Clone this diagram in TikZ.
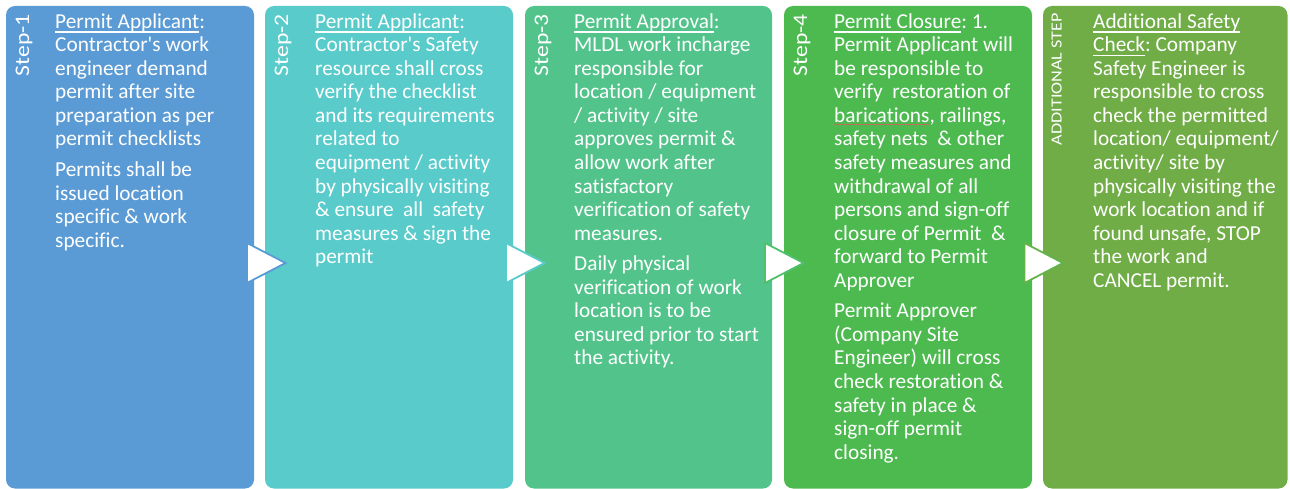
\documentclass[tikz,border=0pt]{standalone}
\usepackage{graphicx}
\usepackage{fontspec}
\setmainfont{Carlito}[Ligatures={TeXOff,NoCommon}]
\definecolor{cA}{HTML}{5B9BD5}
\definecolor{cB}{HTML}{58CBCA}
\definecolor{cC}{HTML}{52C48B}
\definecolor{cD}{HTML}{4DBA50}
\definecolor{cE}{HTML}{70AD47}
\definecolor{aC}{HTML}{4FC06E}
\definecolor{aD}{HTML}{62B44A}
\definecolor{spell}{HTML}{C0705A}
\newcommand\myul[1]{\setbox0\hbox{#1}\rlap{\rule[-4.3pt]{\wd0}{1.2pt}}\box0}
\newcommand\myspell[1]{\setbox0\hbox{#1}\rlap{\color{spell}\rule[-2.4pt]{\wd0}{0.8pt}}\box0}
\newcommand\steptxt[1]{\resizebox{62pt}{\height}{#1}}
\newcommand\addtxt[1]{\resizebox{132pt}{\height}{#1}}
\begin{document}
\frenchspacing
\begin{tikzpicture}[x=1pt,y=-1pt,
  box/.style={draw=none, rounded corners=9pt, inner sep=0pt, outer sep=0pt, anchor=north west, minimum height=482.5pt},
  txt/.style={text=white, anchor=north west, inner sep=0pt, align=left, font=\fontsize{21.3}{23.55}\selectfont},
  lbl/.style={text=white, rotate=90, anchor=base east, inner sep=0pt, font=\fontsize{20.7}{23}\selectfont},
  lblsmall/.style={text=white, rotate=90, anchor=base east, inner sep=0pt, font=\fontsize{15.5}{18}\selectfont},
  arr/.style={fill=white, line width=1.8pt, line join=miter}]
\useasboundingbox (0,0) rectangle (1290,489);
% boxes
\node[box, fill=cA, minimum width=248pt] (b1) at (6,6) {};
\node[box, fill=cB, minimum width=248pt] (b2) at (265,6) {};
\node[box, fill=cC, minimum width=247pt] (b3) at (525,6) {};
\node[box, fill=cD, minimum width=248pt] (b4) at (784,6) {};
\node[box, fill=cE, minimum width=244.5pt] (b5) at (1043,6) {};
% step labels
\node[lbl] (l1) at (29,14) {\steptxt{Step-1}};
\node[lbl] (l2) at (288,14) {\steptxt{Step-2}};
\node[lbl] (l3) at (548,14) {\steptxt{Step-3}};
\node[lbl] (l4) at (807,14) {\steptxt{Step-4}};
\node[lblsmall] (l5) at (1061.5,13) {\addtxt{ADDITIONAL STEP}};
% texts
\node[txt] (t1) at (55,11.55) {\strut\myul{Permit Applicant}:\\
Contractor's work\\
engineer demand\\
permit after site\\
preparation as per\\
permit checklists\\[7pt]
Permits shall be\\
issued location\\
specific \& work\\
specific.};
\node[txt] (t2) at (315,11.55) {\strut\myul{Permit Applicant}:\\
Contractor's Safety\\
resource shall cross\\
verify the checklist\\
and its requirements\\
related to\\
equipment / activity\\
by physically visiting\\
\& ensure\ \ all\ \ safety\\
measures \& sign the\\
permit};
\node[txt] (t3) at (574,11.55) {\strut\myul{Permit Approval}:\\
MLDL work incharge\\
responsible for\\
location / equipment\\
/ activity / site\\
approves permit \&\\
allow work after\\
satisfactory\\
verification of safety\\
measures.\\[7pt]
Daily physical\\
verification of work\\
location is to be\\
ensured prior to start\\
the activity.};
\node[txt] (t4) at (834,11.55) {\strut\myul{Permit Closure}: 1.\\
Permit Applicant will\\
be responsible to\\
verify\ \ restoration of\\
\myspell{barications}, railings,\\
safety nets\ \ \& other\\
safety measures and\\
withdrawal of all\\
persons and sign-off\\
closure of Permit\ \ \&\\
forward to Permit\\
Approver\\[7pt]
Permit Approver\\
(Company Site\\
Engineer) will cross\\
check restoration \&\\
safety in place \&\\
sign-off permit\\
closing.};
\node[txt] (t5) at (1093,11.55) {\strut\myul{Additional Safety}\\
\myul{Check}: Company\\
Safety Engineer is\\
responsible to cross\\
check the permitted\\
location/ equipment/\\
activity/ site by\\
physically visiting the\\
work location and if\\
found unsafe, STOP\\
the work and\\
CANCEL permit.};
% arrows
\draw[arr, draw=cA] (247,243) -- (285.5,263) -- (247,283) -- cycle;
\draw[arr, draw=cB] (506,243) -- (544.5,263) -- (506,283) -- cycle;
\draw[arr, draw=aC] (765,243) -- (803.5,263) -- (765,283) -- cycle;
\draw[arr, draw=aD] (1024.5,243) -- (1063,263) -- (1024.5,283) -- cycle;
\end{tikzpicture}
\end{document}
